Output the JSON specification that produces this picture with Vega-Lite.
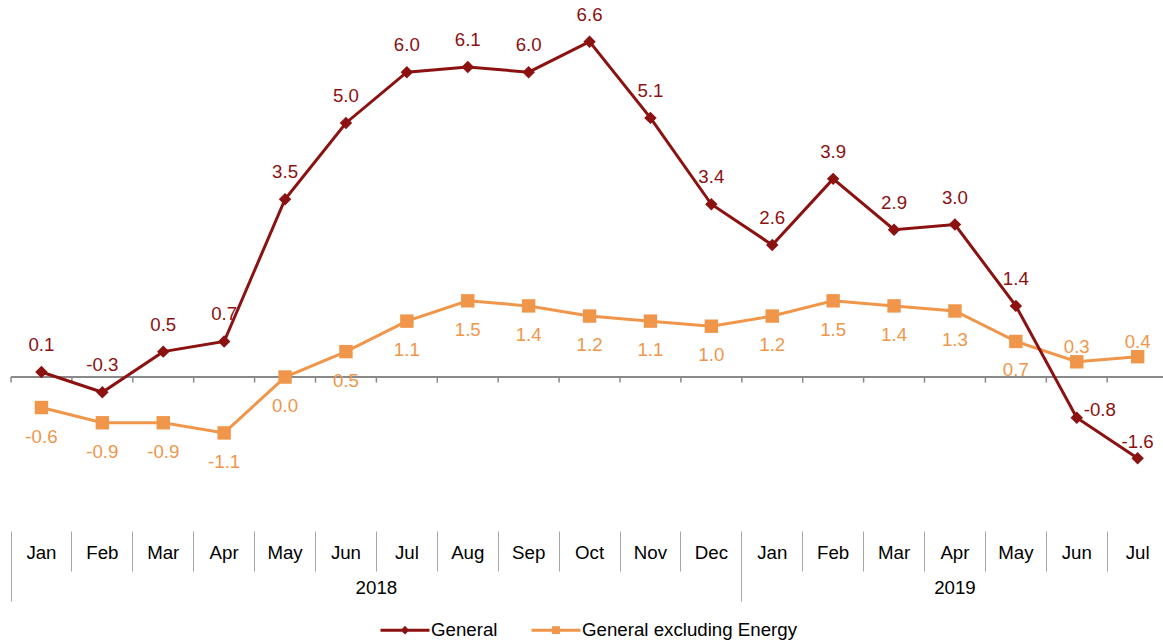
{
  "$schema": "https://vega.github.io/schema/vega-lite/v6.json",
  "width": 1153,
  "height": 531,
  "padding": {"left": 10, "top": 0, "right": 0, "bottom": 0},
  "background": "white",
  "config": {"view": {"stroke": null}, "font": "Liberation Sans"},
  "data": {"values": [
    {"period": "Jan 2018", "series": "General excluding Energy", "value": -0.6, "label": "-0.6"},
    {"period": "Feb 2018", "series": "General excluding Energy", "value": -0.9, "label": "-0.9"},
    {"period": "Mar 2018", "series": "General excluding Energy", "value": -0.9, "label": "-0.9"},
    {"period": "Apr 2018", "series": "General excluding Energy", "value": -1.1, "label": "-1.1"},
    {"period": "May 2018", "series": "General excluding Energy", "value": 0.0, "label": "0.0"},
    {"period": "Jun 2018", "series": "General excluding Energy", "value": 0.5, "label": "0.5"},
    {"period": "Jul 2018", "series": "General excluding Energy", "value": 1.1, "label": "1.1"},
    {"period": "Aug 2018", "series": "General excluding Energy", "value": 1.5, "label": "1.5"},
    {"period": "Sep 2018", "series": "General excluding Energy", "value": 1.4, "label": "1.4"},
    {"period": "Oct 2018", "series": "General excluding Energy", "value": 1.2, "label": "1.2"},
    {"period": "Nov 2018", "series": "General excluding Energy", "value": 1.1, "label": "1.1"},
    {"period": "Dec 2018", "series": "General excluding Energy", "value": 1.0, "label": "1.0"},
    {"period": "Jan 2019", "series": "General excluding Energy", "value": 1.2, "label": "1.2"},
    {"period": "Feb 2019", "series": "General excluding Energy", "value": 1.5, "label": "1.5"},
    {"period": "Mar 2019", "series": "General excluding Energy", "value": 1.4, "label": "1.4"},
    {"period": "Apr 2019", "series": "General excluding Energy", "value": 1.3, "label": "1.3"},
    {"period": "May 2019", "series": "General excluding Energy", "value": 0.7, "label": "0.7"},
    {"period": "Jun 2019", "series": "General excluding Energy", "value": 0.3, "label": "0.3"},
    {"period": "Jul 2019", "series": "General excluding Energy", "value": 0.4, "label": "0.4"},
    {"period": "Jan 2018", "series": "General", "value": 0.1, "label": "0.1"},
    {"period": "Feb 2018", "series": "General", "value": -0.3, "label": "-0.3"},
    {"period": "Mar 2018", "series": "General", "value": 0.5, "label": "0.5"},
    {"period": "Apr 2018", "series": "General", "value": 0.7, "label": "0.7"},
    {"period": "May 2018", "series": "General", "value": 3.5, "label": "3.5"},
    {"period": "Jun 2018", "series": "General", "value": 5.0, "label": "5.0"},
    {"period": "Jul 2018", "series": "General", "value": 6.0, "label": "6.0"},
    {"period": "Aug 2018", "series": "General", "value": 6.1, "label": "6.1"},
    {"period": "Sep 2018", "series": "General", "value": 6.0, "label": "6.0"},
    {"period": "Oct 2018", "series": "General", "value": 6.6, "label": "6.6"},
    {"period": "Nov 2018", "series": "General", "value": 5.1, "label": "5.1"},
    {"period": "Dec 2018", "series": "General", "value": 3.4, "label": "3.4"},
    {"period": "Jan 2019", "series": "General", "value": 2.6, "label": "2.6"},
    {"period": "Feb 2019", "series": "General", "value": 3.9, "label": "3.9"},
    {"period": "Mar 2019", "series": "General", "value": 2.9, "label": "2.9"},
    {"period": "Apr 2019", "series": "General", "value": 3.0, "label": "3.0"},
    {"period": "May 2019", "series": "General", "value": 1.4, "label": "1.4"},
    {"period": "Jun 2019", "series": "General", "value": -0.8, "label": "-0.8"},
    {"period": "Jul 2019", "series": "General", "value": -1.6, "label": "-1.6"}
  ]},
  "layer": [
    {
      "mark": {"type": "rule", "color": "#898989", "strokeWidth": 2},
      "encoding": {"y": {"datum": 0, "type": "quantitative", "scale": {"domain": [-3.03, 7.42], "nice": false, "zero": false}, "axis": null}}
    },
    {
      "transform": [{"filter": "datum.series === 'General'"}],
      "mark": {"type": "rule", "color": "#898989", "strokeWidth": 1.5},
      "encoding": {
        "x": {"field": "period", "type": "nominal", "bandPosition": 0,
          "scale": {"domain": ["Jan 2018","Feb 2018","Mar 2018","Apr 2018","May 2018","Jun 2018","Jul 2018","Aug 2018","Sep 2018","Oct 2018","Nov 2018","Dec 2018","Jan 2019","Feb 2019","Mar 2019","Apr 2019","May 2019","Jun 2019","Jul 2019"], "range": [0, 1157.1], "paddingInner": 0, "paddingOuter": 0},
          "axis": {
            "title": null, "domain": false, "bandPosition": 0, "ticks": true,
            "tickSize": {"condition": {"test": "indexof(datum.value, 'Jan ') === 0", "value": 70}, "value": 40},
            "tickColor": "#a6a6a6", "tickWidth": 1,
            "labelExpr": "split(datum.value, ' ')[0]",
            "labelOffset": 0,
            "labelPadding": {"condition": {"test": "indexof(datum.value, 'Jan ') === 0", "value": -48.3}, "value": -18.3},
            "labelBaseline": "middle", "labelAlign": "center", "labelAngle": 0,
            "labelFontSize": 18.7, "labelFont": "Liberation Sans", "labelColor": "#000000",
            "labelFlush": false, "labelOverlap": false, "labelBound": false
          }
        },
        "y": {"datum": 0, "type": "quantitative", "scale": {"domain": [-3.03, 7.42], "nice": false, "zero": false}, "axis": null},
        "y2": {"datum": -0.11}
      }
    },
    {
      "transform": [{"filter": "datum.series !== 'General'"}],
      "mark": {"type": "line", "strokeWidth": 3, "color": "#F0964A"},
      "encoding": {
        "x": {"field": "period", "type": "nominal"},
        "y": {"field": "value", "type": "quantitative", "scale": {"domain": [-3.03, 7.42], "nice": false, "zero": false}, "axis": null}
      }
    },
    {
      "transform": [{"filter": "datum.series !== 'General'"}],
      "mark": {"type": "point", "filled": true, "shape": "square", "size": 180, "opacity": 1, "color": "#F0964A"},
      "encoding": {
        "x": {"field": "period", "type": "nominal"},
        "y": {"field": "value", "type": "quantitative", "scale": {"domain": [-3.03, 7.42], "nice": false, "zero": false}, "axis": null}
      }
    },
    {
      "transform": [{"filter": "datum.series === 'General'"}],
      "mark": {"type": "line", "strokeWidth": 3, "color": "#8C1111"},
      "encoding": {
        "x": {"field": "period", "type": "nominal"},
        "y": {"field": "value", "type": "quantitative", "scale": {"domain": [-3.03, 7.42], "nice": false, "zero": false}, "axis": null}
      }
    },
    {
      "transform": [{"filter": "datum.series === 'General'"}],
      "mark": {"type": "point", "filled": true, "shape": "diamond", "size": 155, "opacity": 1, "color": "#8C1111"},
      "encoding": {
        "x": {"field": "period", "type": "nominal"},
        "y": {"field": "value", "type": "quantitative", "scale": {"domain": [-3.03, 7.42], "nice": false, "zero": false}, "axis": null}
      }
    },
    {
      "transform": [{"filter": "datum.series === 'General' && datum.period !== 'Jun 2019' && datum.period !== 'Jul 2019'"}],
      "mark": {"type": "text", "fontSize": 18.7, "font": "Liberation Sans", "baseline": "middle", "dy": -27, "color": "#8C1111"},
      "encoding": {
        "x": {"field": "period", "type": "nominal"},
        "y": {"field": "value", "type": "quantitative", "scale": {"domain": [-3.03, 7.42], "nice": false, "zero": false}, "axis": null},
        "text": {"field": "label"}
      }
    },
    {
      "transform": [{"filter": "datum.series === 'General' && datum.period === 'Jun 2019'"}],
      "mark": {"type": "text", "fontSize": 18.7, "font": "Liberation Sans", "baseline": "middle", "dx": 23, "dy": -8, "color": "#8C1111"},
      "encoding": {
        "x": {"field": "period", "type": "nominal"},
        "y": {"field": "value", "type": "quantitative", "scale": {"domain": [-3.03, 7.42], "nice": false, "zero": false}, "axis": null},
        "text": {"field": "label"}
      }
    },
    {
      "transform": [{"filter": "datum.series === 'General' && datum.period === 'Jul 2019'"}],
      "mark": {"type": "text", "fontSize": 18.7, "font": "Liberation Sans", "baseline": "middle", "dy": -16, "color": "#8C1111"},
      "encoding": {
        "x": {"field": "period", "type": "nominal"},
        "y": {"field": "value", "type": "quantitative", "scale": {"domain": [-3.03, 7.42], "nice": false, "zero": false}, "axis": null},
        "text": {"field": "label"}
      }
    },
    {
      "transform": [{"filter": "datum.series !== 'General' && datum.period !== 'Jun 2019' && datum.period !== 'Jul 2019'"}],
      "mark": {"type": "text", "fontSize": 18.7, "font": "Liberation Sans", "baseline": "middle", "dy": 29, "color": "#F0964A"},
      "encoding": {
        "x": {"field": "period", "type": "nominal"},
        "y": {"field": "value", "type": "quantitative", "scale": {"domain": [-3.03, 7.42], "nice": false, "zero": false}, "axis": null},
        "text": {"field": "label"}
      }
    },
    {
      "transform": [{"filter": "datum.series !== 'General' && (datum.period === 'Jun 2019' || datum.period === 'Jul 2019')"}],
      "mark": {"type": "text", "fontSize": 18.7, "font": "Liberation Sans", "baseline": "middle", "dy": -15, "color": "#F0964A"},
      "encoding": {
        "x": {"field": "period", "type": "nominal"},
        "y": {"field": "value", "type": "quantitative", "scale": {"domain": [-3.03, 7.42], "nice": false, "zero": false}, "axis": null},
        "text": {"field": "label"}
      }
    },
    {
      "data": {"values": [{"period": "Jul 2018", "year": "2018"}]},
      "mark": {"type": "text", "fontSize": 18.7, "font": "Liberation Sans", "baseline": "middle", "color": "#000000"},
      "encoding": {
        "x": {"field": "period", "type": "nominal", "bandPosition": 0},
        "y": {"datum": -4.15, "type": "quantitative", "scale": {"domain": [-3.03, 7.42], "nice": false, "zero": false}, "axis": null},
        "text": {"field": "year"}
      }
    },
    {
      "data": {"values": [{"period": "Apr 2019", "year": "2019"}]},
      "mark": {"type": "text", "fontSize": 18.7, "font": "Liberation Sans", "baseline": "middle", "color": "#000000"},
      "encoding": {
        "x": {"field": "period", "type": "nominal"},
        "y": {"datum": -4.15, "type": "quantitative", "scale": {"domain": [-3.03, 7.42], "nice": false, "zero": false}, "axis": null},
        "text": {"field": "year"}
      }
    },
    {
      "mark": {"type": "point", "filled": false, "opacity": 0, "strokeWidth": 3},
      "encoding": {
        "x": {"field": "period", "type": "nominal"},
        "y": {"field": "value", "type": "quantitative", "scale": {"domain": [-3.03, 7.42], "nice": false, "zero": false}, "axis": null},
        "color": {"field": "series", "type": "nominal",
          "scale": {"domain": ["General", "General excluding Energy"], "range": ["#8C1111", "#F0964A"]},
          "legend": {"orient": "none", "legendX": 368, "legendY": 604, "direction": "horizontal", "title": null,
            "labelFontSize": 18.7, "labelFont": "Liberation Sans", "labelColor": "#000000",
            "symbolSize": 2400, "symbolStrokeWidth": 3, "symbolOpacity": 1, "symbolFillColor": "transparent",
            "labelOffset": 0, "columnPadding": 27, "labelLimit": 400}},
        "shape": {"field": "series", "type": "nominal",
          "scale": {"domain": ["General", "General excluding Energy"], "range": ["M-1,0H1M0,-0.09L0.09,0L0,0.09L-0.09,0Z", "M-1,0H1M-0.1,-0.1H0.1V0.1H-0.1Z"]},
          "legend": {"orient": "none", "legendX": 368, "legendY": 604, "direction": "horizontal", "title": null,
            "labelFontSize": 18.7, "labelFont": "Liberation Sans", "labelColor": "#000000",
            "symbolSize": 2400, "symbolStrokeWidth": 3, "symbolOpacity": 1, "symbolFillColor": "transparent",
            "labelOffset": 0, "columnPadding": 27, "labelLimit": 400}}
      }
    }
  ]
}
